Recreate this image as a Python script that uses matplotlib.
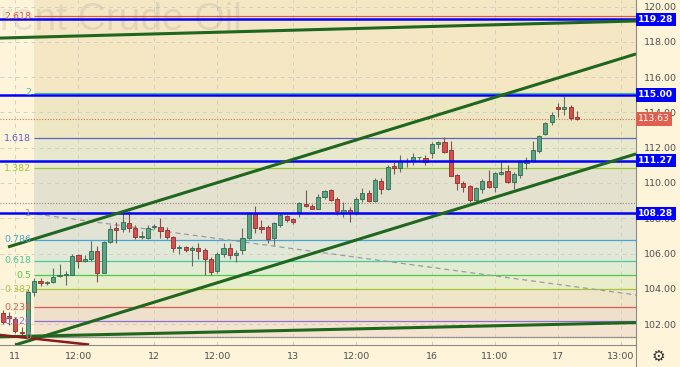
import numpy as np
import matplotlib
matplotlib.use("Agg")
import matplotlib.pyplot as plt
from matplotlib.patches import Rectangle
from matplotlib.lines import Line2D

# ---- hourly candles ----
opens = [102.6, 102.45, 102.3, 101.55, 101.4, 103.8, 104.45, 104.3, 104.4, 104.7,
         104.8, 104.8, 105.9, 105.6, 105.7, 106.15, 104.9, 106.65, 107.45, 107.4,
         107.75, 107.45, 106.95, 106.9, 107.5, 107.5, 107.35, 106.95, 106.3, 106.35,
         106.2, 106.3, 106.2, 105.7, 105.0, 106.0, 106.3, 105.9, 106.2, 106.86,
         108.24, 107.52, 107.49, 106.86, 107.62, 108.13, 107.94, 108.38, 108.81, 108.7,
         108.53, 109.19, 109.6, 109.07, 108.32, 108.47, 108.32, 109.09, 109.45, 108.98,
         110.11, 109.64, 110.96, 110.87, 111.22, 111.25, 111.45, 111.43, 111.68, 112.19,
         112.31, 111.87, 110.45, 110.02, 109.83, 109.04, 109.66, 110.11, 109.79, 110.5,
         110.68, 110.04, 110.45, 111.15, 111.25, 111.82, 112.76, 113.45, 114.33, 114.2,
         114.33, 113.76]
highs = [102.8, 102.7, 102.4, 101.85, 104.0, 104.6, 104.6, 104.45, 105.2, 105.4,
         105.0, 106.0, 106.0, 105.9, 106.7, 106.4, 106.7, 107.6, 107.8, 108.3,
         108.4, 107.6, 107.3, 107.6, 107.7, 108.0, 107.5, 107.0, 106.5, 106.4,
         106.4, 106.6, 106.3, 105.8, 106.1, 106.6, 106.6, 106.2, 107.43, 108.35,
         108.7, 107.9, 107.6, 107.8, 108.3, 108.18, 108.0, 108.92, 109.6, 108.8,
         109.4, 109.6, 109.65, 109.2, 108.94, 108.66, 109.2, 109.7, 109.6, 110.3,
         110.3, 111.0, 111.2, 111.6, 111.4, 111.7, 111.5, 111.6, 112.3, 112.4,
         112.63, 112.38, 110.5, 110.1, 109.9, 109.8, 110.2, 110.74, 110.65, 111.25,
         111.0, 110.6, 111.3, 111.5, 112.38, 112.75, 113.45, 114.0, 114.52, 114.95,
         114.42, 114.08]
lows = [102.0, 101.95, 101.5, 101.4, 101.3, 103.6, 104.15, 104.2, 104.3, 104.65,
        104.2, 104.8, 105.2, 105.5, 105.6, 104.4, 104.9, 106.6, 106.6, 107.2,
        107.2, 106.8, 106.8, 106.85, 107.4, 106.9, 106.8, 106.1, 106.0, 106.1,
        105.3, 105.7, 104.8, 104.8, 104.9, 105.8, 105.7, 105.5, 106.0, 106.8,
        107.14, 107.16, 106.6, 106.48, 107.5, 107.8, 107.7, 108.07, 108.66, 108.5,
        108.5, 109.1, 109.0, 108.18, 108.09, 107.81, 108.2, 108.9, 108.9, 108.9,
        109.4, 109.6, 110.5, 110.6, 110.9, 111.0, 111.3, 111.0, 111.43, 111.98,
        111.7, 110.4, 109.6, 109.5, 108.9, 108.95, 109.42, 109.7, 109.5, 110.45,
        110.0, 109.66, 110.3, 110.8, 111.2, 111.7, 112.7, 113.3, 113.76, 113.86,
        113.6, 113.6]
closes = [102.1, 102.35, 101.6, 101.5, 103.8, 104.45, 104.3, 104.4, 104.65, 104.78,
          104.85, 105.85, 105.6, 105.7, 106.15, 104.9, 106.65, 107.4, 107.35, 107.8,
          107.45, 106.95, 106.98, 107.45, 107.55, 107.3, 106.95, 106.3, 106.35, 106.2,
          106.3, 106.15, 105.7, 104.95, 106.0, 106.3, 105.9, 106.05, 106.86, 108.28,
          107.43, 107.39, 106.81, 107.71, 108.18, 107.9, 107.81, 108.85, 108.7, 108.53,
          109.22, 109.55, 109.04, 108.43, 108.47, 108.32, 109.07, 109.41, 108.98, 110.17,
          109.64, 110.89, 110.87, 111.25, 111.27, 111.46, 111.5, 111.17, 112.19, 112.34,
          111.78, 110.42, 109.98, 109.79, 109.04, 109.7, 110.11, 109.79, 110.55, 110.6,
          110.07, 110.5, 111.17, 111.3, 111.87, 112.68, 113.39, 113.86, 114.2, 114.33,
          113.67, 113.63]

tick_pos = [2, 12, 24, 34, 46, 56, 68, 78, 88, 98]
tick_labels = ['11', '12:00', '12', '12:00', '13', '12:00', '16', '11:00', '17', '13:00']
price_ticks = [102, 104, 106, 108, 110, 112, 114, 116, 118, 120]

# fibonacci retracement
fib_names = ['0', '0.126', '0.236', '0.382', '0.5', '0.618', '0.786', '1', '1.382', '1.618', '2', '2.618']
fib_prices = [101.27, 102.17, 102.95, 103.97, 104.77, 105.6, 106.77, 108.29, 110.85, 112.55, 115.13, 119.45]
fib_colors = ['#9a9a9a', '#8f6fd0', '#e05a55', '#a9c23c', '#4cc94c', '#45c99a', '#45a5d5',
              '#9a9a9a', '#9bc83a', '#6060c8', '#45bba5', '#d9584f']
band_colors = ['#f3e3cf', '#efe0cc', '#efe6c9', '#e8edcb', '#e2ecd3', '#e1e8d8',
               '#e2e3d5', '#e4e2cf', '#e8e9cc', '#ede8c3', '#f5e7c4']

levels = [119.28, 115.00, 111.27, 108.28]
last_price = 113.63
dotted_gray = [108.86, 101.29]

# drawn lines: (x0, y0, x1, y1)
green_lines = [(0.84, 106.37, 100.36, 117.32),
               (1.95, 100.81, 100.36, 111.65),
               (-0.43, 118.22, 100.36, 119.19),
               (-0.43, 101.27, 100.36, 102.08)]
red_line = (-0.43, 101.38, 13.5, 100.84)
dash_line = (4.0, 108.3, 100.36, 103.65)

xmin, xmax = -0.43, 100.36
ymin, ymax = 100.81, 120.38
fib_x = 5.0

bg = '#fef4d9'
fig = plt.figure(figsize=(6.8, 3.67), dpi=100)
fig.patch.set_facecolor(bg)
ax = fig.add_axes([0, 22 / 367, 636 / 680, 345 / 367])
ax.set_facecolor(bg)
ax.set_xlim(xmin, xmax)
ax.set_ylim(ymin, ymax)

# fib bands and lines
for k in range(len(band_colors)):
    ax.fill_between([fib_x, xmax], fib_prices[k], fib_prices[k + 1], color=band_colors[k], lw=0, zorder=0.2)
ax.fill_between([fib_x, xmax], fib_prices[-1], ymax, color=band_colors[-1], lw=0, zorder=0.2)
for name, p, c in zip(fib_names, fib_prices, fib_colors):
    ax.hlines(p, fib_x, xmax, color=c, lw=0.9, zorder=1)
    ax.text(4.5, p, name, ha='right', va='center', color=c, fontsize=6.8, zorder=6)

# grid
for t in tick_pos:
    ax.axvline(t, color='#d6d0bf', lw=0.7, ls=(0, (4, 4)), zorder=0.5)
for t in price_ticks:
    ax.axhline(t, color='#d6d0bf', lw=0.7, ls=(0, (4, 4)), zorder=0.5)

# watermark
ax.text(-26 / 636, 1 - 30 / 345, 'Brent Crude Oil', transform=ax.transAxes, fontsize=28,
        family='Liberation Sans', color='#6e6e6e', alpha=0.14, ha='left', va='baseline', zorder=0.6)

# dotted lines
for p in dotted_gray:
    ax.axhline(p, color='#8a8a8a', lw=0.8, ls=(0, (1, 1.5)), zorder=1.2)
ax.axhline(last_price, color='#e0685a', lw=0.8, ls=(0, (1, 1.5)), zorder=1.2)

ax.plot([dash_line[0], dash_line[2]], [dash_line[1], dash_line[3]], color='#9c9c9c', lw=0.9,
        ls=(0, (4, 3)), zorder=1.5)

# candles
for i, (o, h, l, c) in enumerate(zip(opens, highs, lows, closes)):
    up = c >= o
    fc = '#5aa383' if up else '#d64f4c'
    ec = '#2f6b50' if up else '#8c2f2d'
    ax.vlines(i, l, h, color='#6a6a6a' if up else '#7a5555', lw=0.8, zorder=3)
    lo = min(o, c)
    hgt = max(abs(c - o), 0.05)
    ax.add_patch(Rectangle((i - 0.33, lo), 0.66, hgt, fc=fc, ec=ec, lw=0.6, zorder=3.1))

# horizontal levels
for p in levels:
    ax.axhline(p, color='#0000ff', lw=1.8, zorder=4)

for x0, y0, x1, y1 in green_lines:
    ax.plot([x0, x1], [y0, y1], color='#1f661f', lw=2.2, solid_capstyle='butt', zorder=5)
ax.plot([red_line[0], red_line[2]], [red_line[1], red_line[3]], color='#8b1a1a', lw=1.8, zorder=5)

# axes styling
for s in ['top', 'left']:
    ax.spines[s].set_visible(False)
ax.spines['right'].set_color('#8a8a8a')
ax.spines['bottom'].set_color('#8a8a8a')
ax.yaxis.tick_right()
ax.set_yticks(price_ticks)
ax.set_yticklabels(['%.2f' % t for t in price_ticks])
ax.set_xticks(tick_pos)
ax.set_xticklabels(tick_labels)
ax.tick_params(axis='y', length=0, pad=6, labelsize=6.8, labelcolor='#4f4f4f')
ax.tick_params(axis='x', length=0, pad=5, labelsize=6.8, labelcolor='#4f4f4f')

# price boxes
for p in levels:
    ax.annotate('%.2f' % p, xy=(1, p), xycoords=ax.get_yaxis_transform(), xytext=(1.5, 0),
                textcoords='offset points', ha='left', va='center', color='white', fontsize=6.6,
                fontweight='bold', annotation_clip=False, zorder=10,
                bbox=dict(boxstyle='square,pad=0.25', fc='#0000ff', ec='none'))
ax.annotate('%.2f' % last_price, xy=(1, last_price), xycoords=ax.get_yaxis_transform(),
            xytext=(1.5, 0), textcoords='offset points', ha='left', va='center', color='white',
            fontsize=6.6, annotation_clip=False, zorder=10,
            bbox=dict(boxstyle='square,pad=0.25', fc='#e0604f', ec='none'))

fig.add_artist(Line2D([636 / 680, 636 / 680], [0, 22 / 367], color='#8a8a8a', lw=0.8))
fig.text(658 / 680, 1 - 356 / 367, '\u2699', fontsize=11, color='#333333', ha='center', va='center')

fig.savefig('out.png', dpi=100, facecolor=bg)
